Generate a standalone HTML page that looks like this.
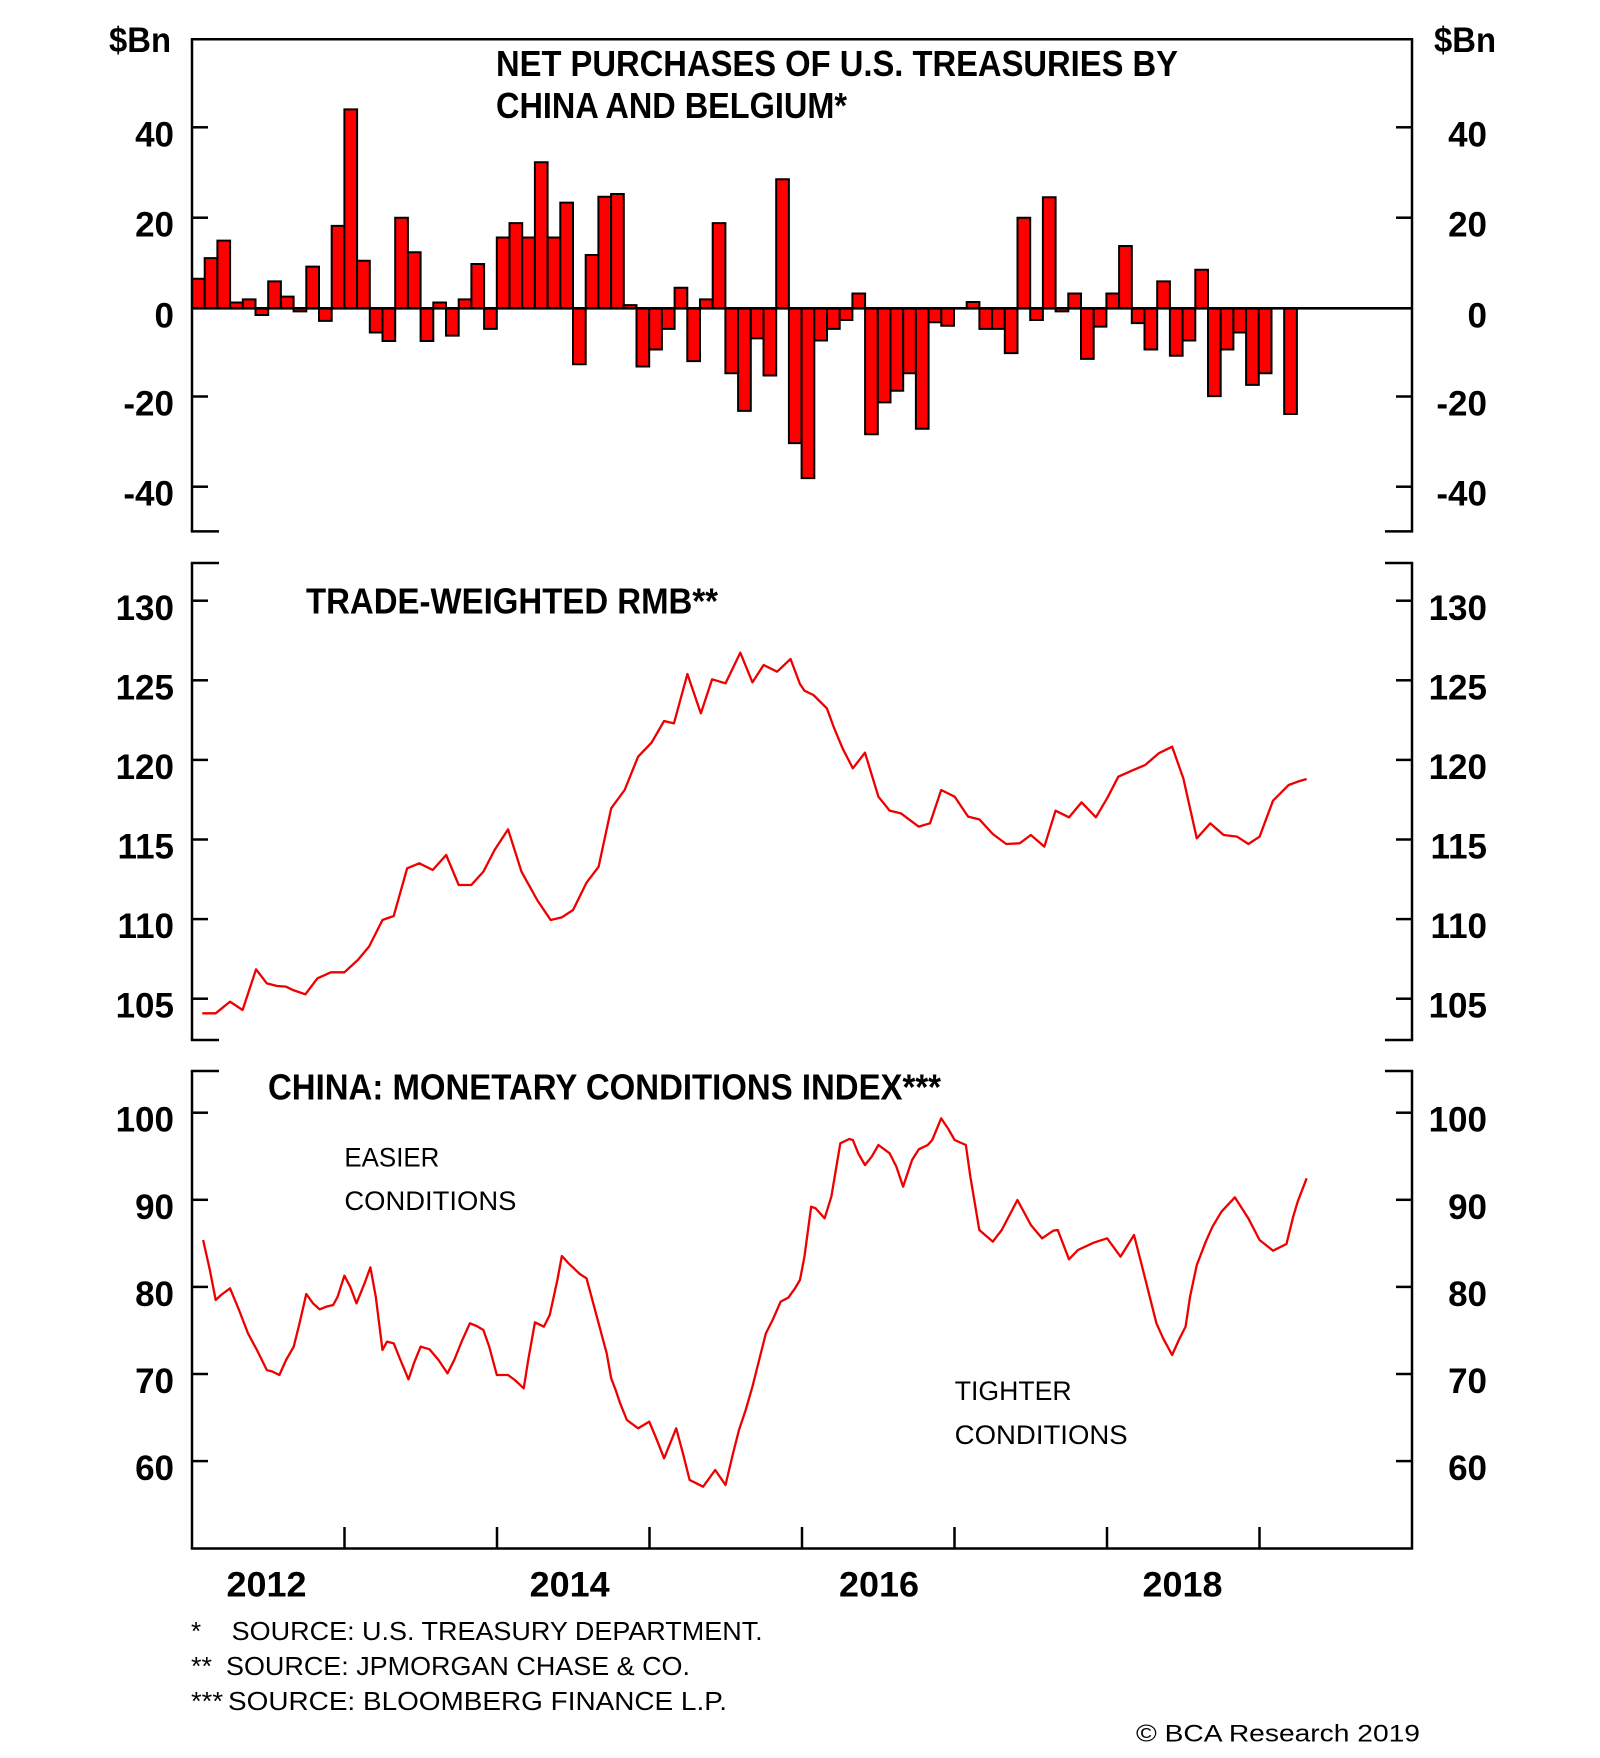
<!DOCTYPE html>
<html>
<head>
<meta charset="utf-8">
<style>
  html, body { margin: 0; padding: 0; background: #ffffff; }
  body { width: 1600px; height: 1758px; overflow: hidden; }
  svg { display: block; }
  text { font-family: "Liberation Sans", Arial, sans-serif; fill: #000; }
  .tk { font-size: 35px; font-weight: bold; }
  .ttl { font-size: 36px; font-weight: bold; }
  .ann { font-size: 27px; font-weight: normal; }
  .fn { font-size: 26px; font-weight: normal; }
</style>
</head>
<body>
<svg width="1600" height="1758" viewBox="0 0 1600 1758" xmlns="http://www.w3.org/2000/svg">
  <rect x="0" y="0" width="1600" height="1758" fill="#ffffff"/>

  <!-- ================= PANEL 1 ================= -->
  <g transform="translate(192,308.3) scale(12.7,-4.48)" fill="#ff0000" stroke="#000" stroke-width="2">
    <rect x="0" y="0" width="1" height="6.6" vector-effect="non-scaling-stroke"/>
    <rect x="1" y="0" width="1" height="11.2" vector-effect="non-scaling-stroke"/>
    <rect x="2" y="0" width="1" height="15.1" vector-effect="non-scaling-stroke"/>
    <rect x="3" y="0" width="1" height="1.3" vector-effect="non-scaling-stroke"/>
    <rect x="4" y="0" width="1" height="2.0" vector-effect="non-scaling-stroke"/>
    <rect x="5" y="-1.5" width="1" height="1.5" vector-effect="non-scaling-stroke"/>
    <rect x="6" y="0" width="1" height="6.0" vector-effect="non-scaling-stroke"/>
    <rect x="7" y="0" width="1" height="2.6" vector-effect="non-scaling-stroke"/>
    <rect x="8" y="-0.7" width="1" height="0.7" vector-effect="non-scaling-stroke"/>
    <rect x="9" y="0" width="1" height="9.3" vector-effect="non-scaling-stroke"/>
    <rect x="10" y="-2.8" width="1" height="2.8" vector-effect="non-scaling-stroke"/>
    <rect x="11" y="0" width="1" height="18.4" vector-effect="non-scaling-stroke"/>
    <rect x="12" y="0" width="1" height="44.4" vector-effect="non-scaling-stroke"/>
    <rect x="13" y="0" width="1" height="10.6" vector-effect="non-scaling-stroke"/>
    <rect x="14" y="-5.4" width="1" height="5.4" vector-effect="non-scaling-stroke"/>
    <rect x="15" y="-7.3" width="1" height="7.3" vector-effect="non-scaling-stroke"/>
    <rect x="16" y="0" width="1" height="20.2" vector-effect="non-scaling-stroke"/>
    <rect x="17" y="0" width="1" height="12.5" vector-effect="non-scaling-stroke"/>
    <rect x="18" y="-7.3" width="1" height="7.3" vector-effect="non-scaling-stroke"/>
    <rect x="19" y="0" width="1" height="1.3" vector-effect="non-scaling-stroke"/>
    <rect x="20" y="-6.1" width="1" height="6.1" vector-effect="non-scaling-stroke"/>
    <rect x="21" y="0" width="1" height="2.0" vector-effect="non-scaling-stroke"/>
    <rect x="22" y="0" width="1" height="9.9" vector-effect="non-scaling-stroke"/>
    <rect x="23" y="-4.6" width="1" height="4.6" vector-effect="non-scaling-stroke"/>
    <rect x="24" y="0" width="1" height="15.8" vector-effect="non-scaling-stroke"/>
    <rect x="25" y="0" width="1" height="19.0" vector-effect="non-scaling-stroke"/>
    <rect x="26" y="0" width="1" height="15.8" vector-effect="non-scaling-stroke"/>
    <rect x="27" y="0" width="1" height="32.6" vector-effect="non-scaling-stroke"/>
    <rect x="28" y="0" width="1" height="15.8" vector-effect="non-scaling-stroke"/>
    <rect x="29" y="0" width="1" height="23.6" vector-effect="non-scaling-stroke"/>
    <rect x="30" y="-12.5" width="1" height="12.5" vector-effect="non-scaling-stroke"/>
    <rect x="31" y="0" width="1" height="11.9" vector-effect="non-scaling-stroke"/>
    <rect x="32" y="0" width="1" height="24.9" vector-effect="non-scaling-stroke"/>
    <rect x="33" y="0" width="1" height="25.5" vector-effect="non-scaling-stroke"/>
    <rect x="34" y="0" width="1" height="0.7" vector-effect="non-scaling-stroke"/>
    <rect x="35" y="-13.0" width="1" height="13.0" vector-effect="non-scaling-stroke"/>
    <rect x="36" y="-9.2" width="1" height="9.2" vector-effect="non-scaling-stroke"/>
    <rect x="37" y="-4.6" width="1" height="4.6" vector-effect="non-scaling-stroke"/>
    <rect x="38" y="0" width="1" height="4.6" vector-effect="non-scaling-stroke"/>
    <rect x="39" y="-11.8" width="1" height="11.8" vector-effect="non-scaling-stroke"/>
    <rect x="40" y="0" width="1" height="2.0" vector-effect="non-scaling-stroke"/>
    <rect x="41" y="0" width="1" height="19.0" vector-effect="non-scaling-stroke"/>
    <rect x="42" y="-14.5" width="1" height="14.5" vector-effect="non-scaling-stroke"/>
    <rect x="43" y="-22.9" width="1" height="22.9" vector-effect="non-scaling-stroke"/>
    <rect x="44" y="-6.7" width="1" height="6.7" vector-effect="non-scaling-stroke"/>
    <rect x="45" y="-15.0" width="1" height="15.0" vector-effect="non-scaling-stroke"/>
    <rect x="46" y="0" width="1" height="28.8" vector-effect="non-scaling-stroke"/>
    <rect x="47" y="-30.1" width="1" height="30.1" vector-effect="non-scaling-stroke"/>
    <rect x="48" y="-37.9" width="1" height="37.9" vector-effect="non-scaling-stroke"/>
    <rect x="49" y="-7.2" width="1" height="7.2" vector-effect="non-scaling-stroke"/>
    <rect x="50" y="-4.6" width="1" height="4.6" vector-effect="non-scaling-stroke"/>
    <rect x="51" y="-2.6" width="1" height="2.6" vector-effect="non-scaling-stroke"/>
    <rect x="52" y="0" width="1" height="3.3" vector-effect="non-scaling-stroke"/>
    <rect x="53" y="-28.1" width="1" height="28.1" vector-effect="non-scaling-stroke"/>
    <rect x="54" y="-21.0" width="1" height="21.0" vector-effect="non-scaling-stroke"/>
    <rect x="55" y="-18.4" width="1" height="18.4" vector-effect="non-scaling-stroke"/>
    <rect x="56" y="-14.5" width="1" height="14.5" vector-effect="non-scaling-stroke"/>
    <rect x="57" y="-26.9" width="1" height="26.9" vector-effect="non-scaling-stroke"/>
    <rect x="58" y="-3.1" width="1" height="3.1" vector-effect="non-scaling-stroke"/>
    <rect x="59" y="-3.9" width="1" height="3.9" vector-effect="non-scaling-stroke"/>
    <rect x="61" y="0" width="1" height="1.4" vector-effect="non-scaling-stroke"/>
    <rect x="62" y="-4.6" width="1" height="4.6" vector-effect="non-scaling-stroke"/>
    <rect x="63" y="-4.6" width="1" height="4.6" vector-effect="non-scaling-stroke"/>
    <rect x="64" y="-10.0" width="1" height="10.0" vector-effect="non-scaling-stroke"/>
    <rect x="65" y="0" width="1" height="20.2" vector-effect="non-scaling-stroke"/>
    <rect x="66" y="-2.6" width="1" height="2.6" vector-effect="non-scaling-stroke"/>
    <rect x="67" y="0" width="1" height="24.8" vector-effect="non-scaling-stroke"/>
    <rect x="68" y="-0.7" width="1" height="0.7" vector-effect="non-scaling-stroke"/>
    <rect x="69" y="0" width="1" height="3.3" vector-effect="non-scaling-stroke"/>
    <rect x="70" y="-11.3" width="1" height="11.3" vector-effect="non-scaling-stroke"/>
    <rect x="71" y="-4.1" width="1" height="4.1" vector-effect="non-scaling-stroke"/>
    <rect x="72" y="0" width="1" height="3.3" vector-effect="non-scaling-stroke"/>
    <rect x="73" y="0" width="1" height="13.9" vector-effect="non-scaling-stroke"/>
    <rect x="74" y="-3.3" width="1" height="3.3" vector-effect="non-scaling-stroke"/>
    <rect x="75" y="-9.2" width="1" height="9.2" vector-effect="non-scaling-stroke"/>
    <rect x="76" y="0" width="1" height="6.0" vector-effect="non-scaling-stroke"/>
    <rect x="77" y="-10.6" width="1" height="10.6" vector-effect="non-scaling-stroke"/>
    <rect x="78" y="-7.2" width="1" height="7.2" vector-effect="non-scaling-stroke"/>
    <rect x="79" y="0" width="1" height="8.6" vector-effect="non-scaling-stroke"/>
    <rect x="80" y="-19.6" width="1" height="19.6" vector-effect="non-scaling-stroke"/>
    <rect x="81" y="-9.2" width="1" height="9.2" vector-effect="non-scaling-stroke"/>
    <rect x="82" y="-5.4" width="1" height="5.4" vector-effect="non-scaling-stroke"/>
    <rect x="83" y="-17.1" width="1" height="17.1" vector-effect="non-scaling-stroke"/>
    <rect x="84" y="-14.5" width="1" height="14.5" vector-effect="non-scaling-stroke"/>
    <rect x="86" y="-23.6" width="1" height="23.6" vector-effect="non-scaling-stroke"/>
  </g>

  <line x1="192" y1="308.3" x2="1412" y2="308.3" stroke="#000" stroke-width="2.6"/>

  <g stroke="#000" stroke-width="2.5" fill="none">
    <line x1="190.8" y1="39.3" x2="1413.2" y2="39.3"/>
    <line x1="192" y1="39.3" x2="192" y2="531.4"/>
    <line x1="1412" y1="39.3" x2="1412" y2="531.4"/>
    <line x1="190.8" y1="531.4" x2="219" y2="531.4"/>
    <line x1="1385" y1="531.4" x2="1413.2" y2="531.4"/>
    <line x1="192" y1="127.3" x2="208" y2="127.3"/>
    <line x1="192" y1="217.7" x2="208" y2="217.7"/>
    <line x1="192" y1="396.5" x2="208" y2="396.5"/>
    <line x1="192" y1="486.7" x2="208" y2="486.7"/>
    <line x1="1396" y1="127.3" x2="1412" y2="127.3"/>
    <line x1="1396" y1="217.7" x2="1412" y2="217.7"/>
    <line x1="1396" y1="396.5" x2="1412" y2="396.5"/>
    <line x1="1396" y1="486.7" x2="1412" y2="486.7"/>
  </g>

  <text class="tk" x="109" y="52" textLength="62" lengthAdjust="spacingAndGlyphs">$Bn</text>
  <text class="tk" x="1434" y="52" textLength="62" lengthAdjust="spacingAndGlyphs">$Bn</text>
  <g class="tk" text-anchor="end">
    <text x="174" y="146.3">40</text>
    <text x="174" y="236.7">20</text>
    <text x="174" y="327.3">0</text>
    <text x="174" y="415.5">-20</text>
    <text x="174" y="505.7">-40</text>
    <text x="1487" y="146.3">40</text>
    <text x="1487" y="236.7">20</text>
    <text x="1487" y="327.3">0</text>
    <text x="1487" y="415.5">-20</text>
    <text x="1487" y="505.7">-40</text>
  </g>
  <text class="ttl" x="496" y="76" textLength="682" lengthAdjust="spacingAndGlyphs">NET PURCHASES OF U.S. TREASURIES BY</text>
  <text class="ttl" x="496" y="118" textLength="351" lengthAdjust="spacingAndGlyphs">CHINA AND BELGIUM*</text>

  <!-- ================= PANEL 2 ================= -->
  <g stroke="#000" stroke-width="2.5" fill="none">
    <line x1="192" y1="563" x2="192" y2="1040"/>
    <line x1="1412" y1="563" x2="1412" y2="1040"/>
    <line x1="190.8" y1="563" x2="219" y2="563"/>
    <line x1="1385" y1="563" x2="1413.2" y2="563"/>
    <line x1="190.8" y1="1040" x2="219" y2="1040"/>
    <line x1="1385" y1="1040" x2="1413.2" y2="1040"/>
    <line x1="192" y1="600.7" x2="208" y2="600.7"/>
    <line x1="192" y1="680.3" x2="208" y2="680.3"/>
    <line x1="192" y1="759.9" x2="208" y2="759.9"/>
    <line x1="192" y1="839.5" x2="208" y2="839.5"/>
    <line x1="192" y1="919.1" x2="208" y2="919.1"/>
    <line x1="192" y1="998.7" x2="208" y2="998.7"/>
    <line x1="1396" y1="600.7" x2="1412" y2="600.7"/>
    <line x1="1396" y1="680.3" x2="1412" y2="680.3"/>
    <line x1="1396" y1="759.9" x2="1412" y2="759.9"/>
    <line x1="1396" y1="839.5" x2="1412" y2="839.5"/>
    <line x1="1396" y1="919.1" x2="1412" y2="919.1"/>
    <line x1="1396" y1="998.7" x2="1412" y2="998.7"/>
  </g>
  <g class="tk" text-anchor="end">
    <text x="174" y="620">130</text>
    <text x="174" y="699.5">125</text>
    <text x="174" y="779">120</text>
    <text x="174" y="858.5">115</text>
    <text x="174" y="938">110</text>
    <text x="174" y="1017.5">105</text>
    <text x="1487" y="620">130</text>
    <text x="1487" y="699.5">125</text>
    <text x="1487" y="779">120</text>
    <text x="1487" y="858.5">115</text>
    <text x="1487" y="938">110</text>
    <text x="1487" y="1017.5">105</text>
  </g>
  <text class="ttl" x="306" y="613.3" textLength="412" lengthAdjust="spacingAndGlyphs">TRADE-WEIGHTED RMB**</text>

  <g fill="none" stroke="#ee0000" stroke-width="2.3" stroke-linejoin="round">
    <polyline transform="translate(100,560) scale(0.4484,0.33333)" vector-effect="non-scaling-stroke"
      points="228,1360 258,1360 290,1325 318,1350 348,1228 372,1270 395,1278 415,1280 430,1290 458,1303 485,1255 515,1237 545,1237 575,1200 600,1160 630,1080 655,1068 685,925 712,910 742,930 772,885 800,975 828,975 855,935 880,870 910,808 940,935 975,1020 1005,1080 1030,1072 1055,1050 1085,968 1112,920 1140,745 1170,690 1200,590 1230,548 1258,483 1280,490 1310,342 1340,460 1365,358 1395,370 1428,278 1455,367 1480,315 1510,335 1540,297 1561,372 1571,392 1591,405 1621,445 1636,500 1656,565 1679,625 1706,578 1736,710 1761,752 1786,760 1826,800 1851,790 1876,690 1906,710 1936,770 1961,778 1991,822 2021,852 2051,850 2076,825 2106,860 2131,752 2161,772 2189,727 2221,772 2246,715 2271,650 2301,632 2331,615 2361,580 2391,560 2416,655 2446,835 2476,790 2506,825 2536,830 2561,852 2586,830 2616,722 2651,675 2671,665 2691,657"/>
  </g>

  <!-- ================= PANEL 3 ================= -->
  <g stroke="#000" stroke-width="2.5" fill="none">
    <line x1="192" y1="1071" x2="192" y2="1548.5"/>
    <line x1="1412" y1="1071" x2="1412" y2="1548.5"/>
    <line x1="190.8" y1="1071" x2="219" y2="1071"/>
    <line x1="1385" y1="1071" x2="1413.2" y2="1071"/>
    <line x1="190.8" y1="1548.5" x2="1413.2" y2="1548.5"/>
    <line x1="192" y1="1112.7" x2="208" y2="1112.7"/>
    <line x1="192" y1="1199.8" x2="208" y2="1199.8"/>
    <line x1="192" y1="1286.9" x2="208" y2="1286.9"/>
    <line x1="192" y1="1374" x2="208" y2="1374"/>
    <line x1="192" y1="1461.1" x2="208" y2="1461.1"/>
    <line x1="1396" y1="1112.7" x2="1412" y2="1112.7"/>
    <line x1="1396" y1="1199.8" x2="1412" y2="1199.8"/>
    <line x1="1396" y1="1286.9" x2="1412" y2="1286.9"/>
    <line x1="1396" y1="1374" x2="1412" y2="1374"/>
    <line x1="1396" y1="1461.1" x2="1412" y2="1461.1"/>
    <line x1="344.5" y1="1527" x2="344.5" y2="1548.5"/>
    <line x1="497" y1="1527" x2="497" y2="1548.5"/>
    <line x1="649.5" y1="1527" x2="649.5" y2="1548.5"/>
    <line x1="802" y1="1527" x2="802" y2="1548.5"/>
    <line x1="954.5" y1="1527" x2="954.5" y2="1548.5"/>
    <line x1="1107" y1="1527" x2="1107" y2="1548.5"/>
    <line x1="1259.5" y1="1527" x2="1259.5" y2="1548.5"/>
  </g>
  <g class="tk" text-anchor="end">
    <text x="174" y="1131.7">100</text>
    <text x="174" y="1218.8">90</text>
    <text x="174" y="1305.9">80</text>
    <text x="174" y="1393">70</text>
    <text x="174" y="1480.1">60</text>
    <text x="1487" y="1131.7">100</text>
    <text x="1487" y="1218.8">90</text>
    <text x="1487" y="1305.9">80</text>
    <text x="1487" y="1393">70</text>
    <text x="1487" y="1480.1">60</text>
  </g>
  <text class="ttl" x="268" y="1099.3" textLength="673" lengthAdjust="spacingAndGlyphs">CHINA: MONETARY CONDITIONS INDEX***</text>
  <text class="ann" x="344.4" y="1166.7" textLength="95" lengthAdjust="spacingAndGlyphs">EASIER</text>
  <text class="ann" x="344.4" y="1210" textLength="172" lengthAdjust="spacingAndGlyphs">CONDITIONS</text>
  <text class="ann" x="954.7" y="1400" textLength="117" lengthAdjust="spacingAndGlyphs">TIGHTER</text>
  <text class="ann" x="954.7" y="1444" textLength="173" lengthAdjust="spacingAndGlyphs">CONDITIONS</text>

  <g fill="none" stroke="#ee0000" stroke-width="2.3" stroke-linejoin="round">
    <polyline transform="translate(100,1070) scale(0.4484,0.33333)" vector-effect="non-scaling-stroke"
      points="230,510 245,600 258,690 270,675 290,655 310,720 330,790 350,840 372,900 385,905 400,915 415,870 432,830 445,760 460,672 475,700 490,718 505,710 520,705 530,680 545,617 558,650 572,700 590,640 603,592 615,680 630,840 640,815 655,820 670,870 688,928 700,880 715,830 735,838 755,870 775,910 790,870 808,810 825,760 840,768 855,780 868,830 885,915 910,915 925,930 945,955 955,870 970,757 990,770 1003,735 1020,630 1030,558 1045,580 1070,612 1085,625 1100,700 1115,775 1130,850 1140,925 1150,960 1160,1000 1175,1050 1190,1065 1200,1075 1225,1055 1242,1110 1258,1165 1285,1075 1300,1150 1315,1230 1330,1240 1345,1250 1372,1200 1395,1245 1410,1160 1425,1080 1440,1020 1455,950 1470,870 1485,790 1500,750 1518,695 1535,683 1550,655 1561,630 1571,560 1586,410 1596,415 1616,445 1631,380 1641,300 1651,220 1671,207 1679,210 1691,250 1706,285 1721,260 1736,225 1761,250 1776,290 1791,350 1811,270 1826,238 1846,225 1856,210 1876,145 1891,175 1906,210 1931,225 1941,320 1951,400 1961,480 1991,515 2011,480 2046,390 2076,465 2101,505 2126,482 2136,480 2161,568 2181,540 2216,518 2246,505 2276,560 2306,495 2326,600 2341,680 2356,760 2371,805 2391,855 2406,810 2421,770 2431,680 2446,585 2466,515 2481,470 2501,425 2531,382 2561,445 2586,510 2616,542 2646,522 2661,440 2671,395 2691,325"/>
  </g>

  <g class="tk" text-anchor="middle">
    <text x="266.5" y="1596.7" textLength="80" lengthAdjust="spacingAndGlyphs">2012</text>
    <text x="569.7" y="1596.7" textLength="80" lengthAdjust="spacingAndGlyphs">2014</text>
    <text x="879" y="1596.7" textLength="80" lengthAdjust="spacingAndGlyphs">2016</text>
    <text x="1182.5" y="1596.7" textLength="80" lengthAdjust="spacingAndGlyphs">2018</text>
  </g>

  <text class="fn" x="191" y="1640">*</text>
  <text class="fn" x="231.7" y="1640" textLength="531" lengthAdjust="spacingAndGlyphs">SOURCE: U.S. TREASURY DEPARTMENT.</text>
  <text class="fn" x="191" y="1675" textLength="21" lengthAdjust="spacingAndGlyphs">**</text>
  <text class="fn" x="226" y="1675" textLength="464" lengthAdjust="spacingAndGlyphs">SOURCE: JPMORGAN CHASE &amp; CO.</text>
  <text class="fn" x="191" y="1710" textLength="32" lengthAdjust="spacingAndGlyphs">***</text>
  <text class="fn" x="228" y="1710" textLength="499" lengthAdjust="spacingAndGlyphs">SOURCE: BLOOMBERG FINANCE L.P.</text>
  <text x="1136" y="1741.7" style="font-size:24px" textLength="284" lengthAdjust="spacingAndGlyphs">© BCA Research 2019</text>
</svg>
</body>
</html>
